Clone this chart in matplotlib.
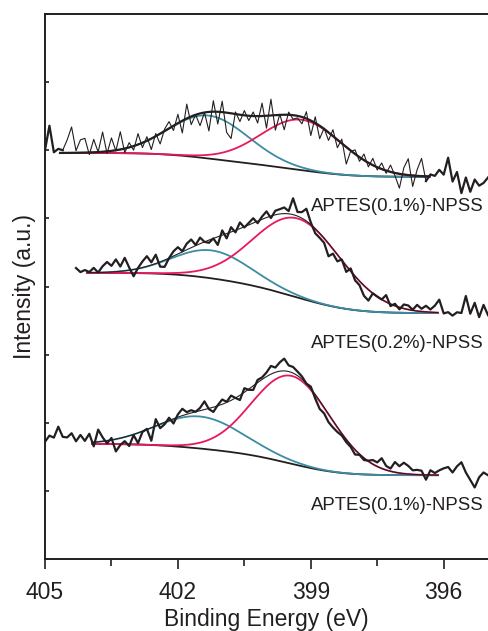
import numpy as np
import matplotlib
matplotlib.use("Agg")
import matplotlib.pyplot as plt
from matplotlib.ticker import FixedLocator, NullFormatter

plt.rcParams['font.family'] = ['Liberation Sans', 'DejaVu Sans']

# ---------------- data ----------------
labels = ['APTES(0.1%)-NPSS', 'APTES(0.2%)-NPSS', 'APTES(0.1%)-NPSS']

# fitted component parameters (binding energy in eV, heights in a.u.)
teal_center = [401.30, 401.23, 401.50]
teal_height = [0.63, 0.41, 0.47]
teal_sigma = [0.90, 0.87, 0.98]
pink_center = [399.20, 399.29, 399.43]
pink_height = [0.74, 1.16, 1.29]
pink_sigma = [0.92, 0.99, 0.89]

# Shirley background levels (high-BE side, low-BE side) and fit range
bg_high = [5.96, 4.20, 1.69]
bg_low = [5.61, 3.61, 1.23]
fit_start = [404.66, 404.05, 403.94]
fit_end = [396.32, 396.13, 396.13]

# raw spectra: first energy, step, and measured deviation from the fit envelope
raw_start = [405.0, 404.3, 405.0]
raw_step = 0.1

top_resid = [
    0.04, 0.40, 0.01, 0.06, 0.04, 0.19, 0.38, 0.03, 0.19, 0.21,
    -0.03, 0.19, 0.00, 0.29, -0.03, 0.19, -0.01, 0.26, -0.06, 0.07,
    -0.06, 0.16, -0.07, 0.06, -0.16, 0.04, -0.15, 0.03, 0.10, -0.07,
    0.13, -0.18, 0.21, -0.12, 0.00, -0.18, 0.00, -0.28, 0.16, -0.18,
    0.16, -0.29, -0.37, 0.03, -0.10, 0.07, -0.07, 0.06, -0.10, 0.19,
    -0.18, 0.24, -0.22, 0.01, -0.22, 0.04, -0.06, -0.03, -0.10, 0.10,
    -0.22, 0.09, -0.19, 0.01, -0.12, 0.09, -0.12, 0.06, -0.25, -0.01,
    0.06, -0.06, 0.09, -0.06, 0.10, -0.04, 0.09, -0.04, 0.10, -0.04,
    -0.21, 0.10, 0.24, -0.16, 0.09, 0.26, -0.07, 0.03, 0.01, 0.10,
    0.03, 0.28, -0.07, 0.07, -0.24, -0.01, -0.22, -0.04, -0.13, -0.09,
    -0.01,
]

mid_resid = [
    0.07, 0.01, 0.04, 0.01, 0.07, 0.00, 0.09, 0.15, 0.09, 0.18,
    0.07, 0.19, 0.04, -0.10, 0.01, 0.09, 0.15, 0.04, 0.13, -0.07,
    -0.10, 0.00, 0.07, 0.10, 0.01, 0.09, 0.12, 0.01, 0.09, 0.00,
    -0.04, 0.00, -0.12, 0.07, -0.07, 0.07, -0.03, 0.09, -0.01, 0.03,
    0.07, -0.03, 0.04, 0.09, -0.03, 0.06, 0.07, 0.09, 0.04, 0.24,
    0.06, 0.09, 0.18, 0.03, -0.07, -0.07, -0.07, -0.19, -0.07, -0.10,
    0.01, -0.09, 0.04, -0.06, -0.06, -0.15, -0.16, 0.00, 0.00, 0.00,
    0.10, -0.03, 0.03, -0.03, 0.06, 0.06, 0.01, 0.09, 0.04, 0.09,
    0.04, 0.10, 0.19, -0.01, 0.01, -0.04, 0.01, 0.00, 0.25, -0.01,
    0.15, -0.06, 0.12, -0.03,
]

bot_resid = [
    0.03, 0.12, 0.09, 0.25, 0.10, 0.09, 0.15, 0.03, 0.12, 0.03,
    0.13, -0.06, 0.18, 0.06, -0.04, 0.03, -0.18, -0.10, -0.06, -0.15,
    -0.01, -0.15, -0.01, 0.01, -0.19, 0.10, -0.06, -0.03, 0.04, -0.07,
    0.04, 0.10, 0.03, 0.04, 0.00, 0.04, 0.12, -0.01, -0.07, 0.01,
    0.07, 0.01, 0.07, 0.00, -0.07, 0.06, -0.01, -0.06, 0.04, 0.03,
    0.06, 0.12, 0.07, 0.13, 0.18, 0.09, 0.09, 0.06, 0.04, 0.00,
    0.03, -0.06, -0.12, -0.09, -0.12, -0.10, -0.07, -0.03, -0.04, -0.03,
    -0.07, -0.01, -0.03, 0.01, 0.06, 0.06, 0.15, 0.06, 0.04, 0.15,
    0.10, 0.16, 0.12, 0.06, 0.07, 0.06, -0.07, 0.07, 0.03, 0.07,
    0.10, 0.12, 0.04, 0.13, 0.19, 0.04, -0.07, -0.18, -0.03, 0.04,
    0.00,
]
residuals = [top_resid, mid_resid, bot_resid]

x_ticks = [405, 402, 399, 396]
x_minor = [403.5, 400.5, 397.5]

# ---------------- styles ----------------
BLACK = '#231f20'
TEAL = '#3b8ca4'
PINK = '#e8185c'
raw_thin_inside = [True, False, False]


def gauss(x, c, h, s):
    return h * np.exp(-0.5 * ((x - c) / s) ** 2)


fig = plt.figure(figsize=(4.88, 6.31), dpi=100)
ax = fig.add_axes([45 / 488, 72 / 631, 443 / 488, 545 / 631])

for k in range(3):
    # dense fit grid (ascending energy)
    xf = np.linspace(fit_end[k], fit_start[k], 600)
    p1 = gauss(xf, teal_center[k], teal_height[k], teal_sigma[k])
    p2 = gauss(xf, pink_center[k], pink_height[k], pink_sigma[k])
    ptot = p1 + p2
    area = np.concatenate([[0.0], np.cumsum(0.5 * (ptot[1:] + ptot[:-1]) * np.diff(xf))])
    bg = bg_low[k] + (bg_high[k] - bg_low[k]) * area / area[-1]
    env = bg + ptot

    # raw spectrum
    res = np.asarray(residuals[k])
    xr = raw_start[k] - raw_step * np.arange(len(res))
    bgr = np.interp(xr, xf, bg)
    model_r = bgr + gauss(xr, teal_center[k], teal_height[k], teal_sigma[k]) \
        + gauss(xr, pink_center[k], pink_height[k], pink_sigma[k])
    yr = model_r + res

    ax.plot(xf, bg, color=BLACK, lw=1.3, zorder=2)
    ax.plot(xf, bg + p1, color=TEAL, lw=1.3, zorder=3)
    ax.plot(xf, bg + p2, color=PINK, lw=1.3, zorder=3)

    if raw_thin_inside[k]:
        inside = (xr <= fit_start[k]) & (xr >= fit_end[k])
        idx = np.where(inside)[0]
        i0, i1 = idx[0], idx[-1]
        ax.plot(xr[i0:i1 + 1], yr[i0:i1 + 1], color=BLACK, lw=0.8, zorder=4)
        ax.plot(xr[:i0 + 1], yr[:i0 + 1], color=BLACK, lw=1.6, zorder=4)
        ax.plot(xr[i1:], yr[i1:], color=BLACK, lw=1.6, zorder=4)
        ax.plot(xf, env, color=BLACK, lw=1.6, zorder=5)
    else:
        ax.plot(xr, yr, color=BLACK, lw=1.6, zorder=4)
        ax.plot(xf, env, color=BLACK, lw=0.8, zorder=5)

    ax.text(395.1, bg_low[k] - 0.44, labels[k], ha='right', va='center',
            fontsize=13.4, color=BLACK)

ax.set_xlim(405, 395)
ax.set_ylim(0, 8)

ax.xaxis.set_major_locator(FixedLocator(x_ticks))
ax.xaxis.set_minor_locator(FixedLocator(x_minor))
ax.set_xticklabels([str(t) for t in x_ticks])
ax.yaxis.set_major_locator(FixedLocator(range(0, 9)))
ax.yaxis.set_major_formatter(NullFormatter())

ax.tick_params(axis='x', which='major', direction='out', length=7, width=1.2,
               labelsize=16.5, pad=9, colors=BLACK, top=False)
ax.tick_params(axis='x', which='minor', direction='out', length=5, width=1.2,
               colors=BLACK, top=False)
ax.tick_params(axis='y', which='major', direction='in', length=3, width=1.2,
               colors=BLACK, right=False)

for side in ['left', 'bottom', 'top']:
    ax.spines[side].set_linewidth(1.4)
    ax.spines[side].set_color(BLACK)
ax.spines['right'].set_visible(False)

ax.set_xlabel('Binding Energy (eV)', fontsize=16.5, color=BLACK, labelpad=3)
ax.set_ylabel('Intensity (a.u.)', fontsize=16.5, color=BLACK, labelpad=3)

fig.savefig('out.png', dpi=100)
